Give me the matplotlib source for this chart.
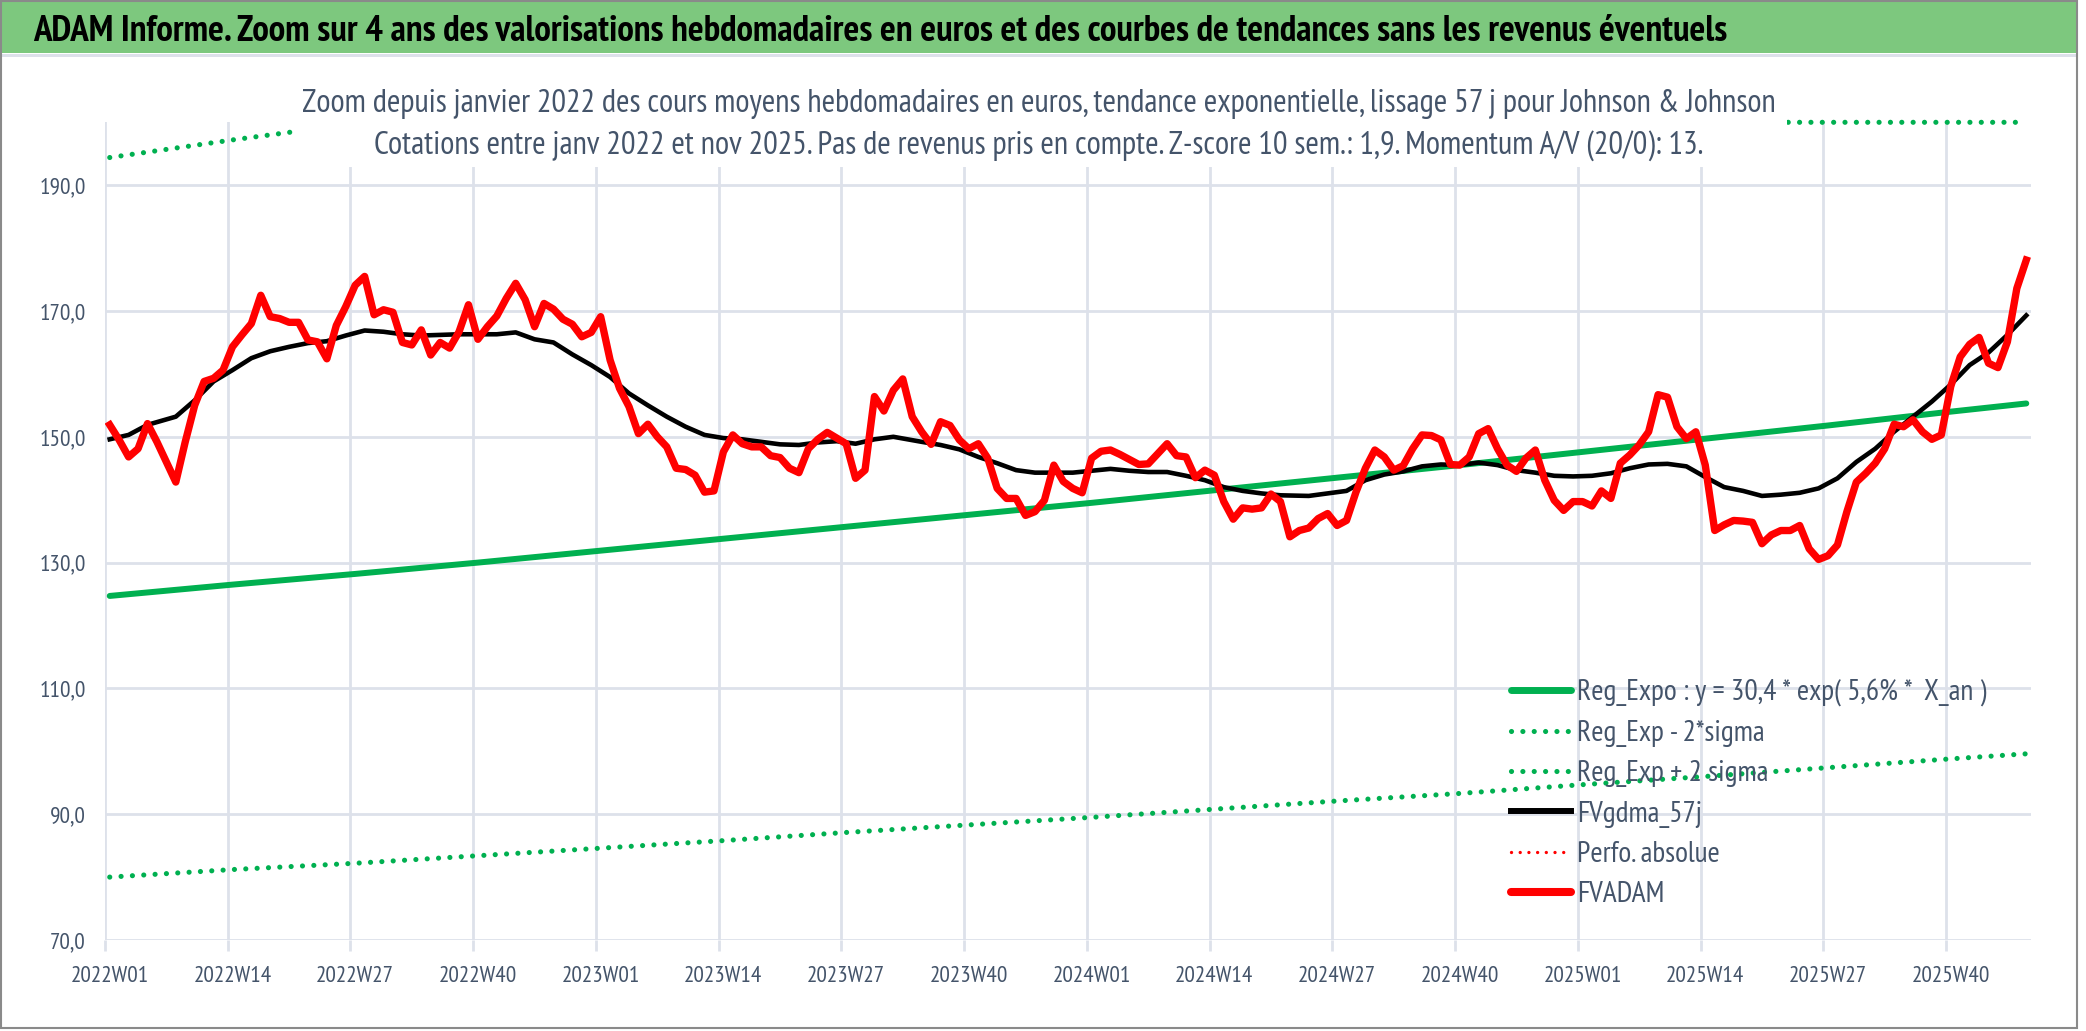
import numpy as np
import matplotlib
matplotlib.use("Agg")
import matplotlib.pyplot as plt
from matplotlib import font_manager
from matplotlib.patches import Rectangle
from matplotlib.lines import Line2D

# weekly FVADAM values (EUR), 2022W01 .. 2025W48
fvadam = [
    151.9, 149.5, 146.8, 148.1, 152.1, 149.2, 146.0, 142.8, 149.2, 155.0,
    158.8, 159.3, 160.6, 164.3, 166.2, 168.0, 172.5, 169.1, 168.8, 168.2,
    168.2, 165.4, 165.1, 162.4, 167.7, 170.7, 174.1, 175.5, 169.4, 170.2,
    169.8, 165.0, 164.6, 167.0, 163.0, 165.0, 164.1, 166.7, 171.0, 165.5,
    167.5, 169.2, 172.0, 174.4, 171.8, 167.5, 171.2, 170.3, 168.7, 167.9,
    165.9, 166.6, 169.1, 162.2, 157.7, 154.8, 150.5, 152.0, 150.0, 148.4,
    145.0, 144.8, 143.9, 141.2, 141.4, 147.6, 150.3, 148.9, 148.4, 148.4,
    147.0, 146.7, 145.0, 144.3, 148.1, 149.6, 150.7, 149.8, 148.9, 143.4,
    144.7, 156.4, 154.1, 157.4, 159.2, 153.2, 150.8, 148.8, 152.4, 151.8,
    149.5, 148.1, 148.9, 146.6, 141.8, 140.2, 140.2, 137.5, 138.1, 139.9,
    145.5, 142.9, 141.8, 141.1, 146.6, 147.7, 147.9, 147.2, 146.4, 145.6,
    145.7, 147.3, 148.9, 147.0, 146.8, 143.5, 144.7, 143.9, 139.7, 136.9,
    138.7, 138.5, 138.7, 140.9, 139.7, 134.1, 135.1, 135.5, 137.0, 137.8,
    135.9, 136.7, 141.2, 145.0, 147.9, 146.8, 144.7, 145.4, 148.1, 150.3,
    150.2, 149.5, 145.6, 145.5, 146.8, 150.5, 151.3, 148.1, 145.5, 144.5,
    146.6, 147.9, 143.1, 139.9, 138.3, 139.7, 139.7, 139.0, 141.4, 140.2,
    145.8, 147.1, 148.7, 150.8, 156.7, 156.3, 151.6, 149.7, 150.8, 145.5,
    135.1, 136.0, 136.7, 136.6, 136.4, 133.0, 134.4, 135.1, 135.1, 135.9,
    132.2, 130.5, 131.1, 132.8, 138.1, 142.8, 144.2, 145.8, 148.1, 152.0,
    151.6, 152.7, 150.8, 149.6, 150.3, 158.0, 162.7, 164.7, 165.8, 161.7,
    161.0, 165.1, 173.6, 178.1,
]

# FVgdma_57j smoothed curve, read every ~2 weeks
gdma_weeks = [
    0, 2, 4, 7, 9, 11, 13, 15, 17, 19, 21, 23, 25, 27, 29, 31, 33, 35, 37, 39,
    41, 43, 45, 47, 49, 51, 53, 55, 57, 59, 61, 63, 65, 67, 69, 71, 73, 75, 77,
    79, 81, 83, 86, 88, 90, 92, 94, 96, 98, 100, 102, 104, 106, 108, 110, 112,
    114, 116, 118, 120, 122, 124, 127, 129, 131, 133, 135, 137, 139, 141, 143,
    145, 147, 149, 151, 153, 155, 157, 159, 161, 163, 165, 167, 169, 171, 173,
    175, 177, 179, 181, 183, 185, 187, 189, 191, 193, 195, 197, 199, 201, 203,
]
gdma = [
    149.6, 150.3, 151.9, 153.2, 155.8, 158.8, 160.6, 162.5, 163.6, 164.3,
    164.9, 165.2, 166.1, 166.9, 166.7, 166.3, 166.1, 166.2, 166.3, 166.3,
    166.3, 166.6, 165.5, 165.0, 163.1, 161.4, 159.5, 156.9, 155.0, 153.2,
    151.6, 150.3, 149.8, 149.6, 149.2, 148.8, 148.7, 149.1, 149.3, 148.9,
    149.6, 150.0, 149.2, 148.7, 148.0, 146.8, 145.8, 144.7, 144.3, 144.3,
    144.3, 144.6, 144.9, 144.6, 144.4, 144.4, 143.8, 143.1, 142.0, 141.4,
    141.0, 140.7, 140.6, 141.0, 141.4, 143.1, 144.0, 144.5, 145.3, 145.6,
    145.5, 145.9, 145.5, 144.7, 144.3, 143.8, 143.7, 143.8, 144.2, 145.0,
    145.6, 145.7, 145.3, 143.6, 142.0, 141.4, 140.6, 140.8, 141.1, 141.8,
    143.4, 146.0, 148.1, 150.8, 153.2, 155.6, 158.3, 161.4, 163.4, 166.2,
    169.3,
]

# exponential trend and +/- 2 sigma bands, read every 13 weeks
trend_weeks = [0, 13, 26, 39, 52, 65, 78, 91, 104, 117, 130, 143, 156, 169, 182, 195, 203]
reg_expo = [124.7, 126.5, 128.2, 130.0, 131.9, 133.8, 135.7, 137.6, 139.5,
            141.5, 143.5, 145.5, 147.6, 149.7, 151.8, 154.0, 155.3]
reg_low = [80.0, 81.2, 82.2, 83.4, 84.6, 85.8, 87.1, 88.3, 89.5,
           90.8, 92.1, 93.3, 94.7, 96.0, 97.4, 98.8, 99.6]
reg_high = [194.4, 197.2, 199.8, 202.6, 205.6, 208.6, 211.5, 214.5, 217.5,
            220.6, 223.7, 226.8, 230.1, 233.4, 236.6, 240.1, 242.1]

years = [2022, 2023, 2024, 2025]
week_labels = ["{}W{:02d}".format(y, w) for y in years for w in range(1, 53)][:len(fvadam)]

title = ("ADAM Informe. Zoom sur 4 ans des valorisations hebdomadaires en euros "
         "et des courbes de tendances sans les revenus éventuels")
sub1 = ("Zoom depuis janvier 2022 des cours moyens hebdomadaires en euros, tendance "
        "exponentielle, lissage 57 j pour Johnson & Johnson")
sub2 = ("Cotations entre janv 2022 et nov 2025. Pas de revenus pris en compte. "
        "Z-score 10 sem.: 1,9. Momentum A/V (20/0): 13.")
labels = ["Reg_Expo : y = 30,4 * exp( 5,6% *  X_an )", "Reg_Exp - 2*sigma",
          "Reg_Exp + 2 sigma", "FVgdma_57j", "Perfo. absolue", "FVADAM"]

# narrow humanist font, close to the squeezed Calibri of the original
names = {f.name for f in font_manager.fontManager.ttflist}
FONT = next((f for f in ["PT Sans Narrow", "Liberation Sans Narrow", "Archivo Narrow",
                         "Carlito", "Liberation Sans"] if f in names), "DejaVu Sans")
plt.rcParams["font.family"] = [FONT, "DejaVu Sans"]

W, H = 2086, 1031
fig = plt.figure(figsize=(W / 100, H / 100), dpi=100)
rend = fig.canvas.get_renderer()


def fit_size(text, target_px, **kw):
    # font size (pt) that gives the text the width measured on the reference
    t = fig.text(0, 0, text, fontsize=20, **kw)
    w = t.get_window_extent(rend).width
    t.remove()
    return 20 * target_px / w


fs_title = fit_size(title, 1696, fontweight="bold")
fs_sub = fit_size(sub1, 1472)
fs_tick = fit_size("2022W01", 78)
fs_leg = fit_size(labels[0], 409)
leg_px = fs_leg * 100 / 72

ymin, ymax = 70, 200
n = len(fvadam)
ax = fig.add_axes([105 / W, 1 - 940 / H, (2031 - 105) / W, (940 - 122.3) / H])
x = np.arange(n)
GREEN = "#00b050"
DOTS = (0, (0.01, 2.2))
ax.plot(trend_weeks, reg_expo, color=GREEN, lw=4.3, solid_capstyle="round", zorder=3)
ax.plot(trend_weeks, reg_low, color=GREEN, lw=3.7, ls=DOTS, dash_capstyle="round", zorder=3)
# Excel pins the out-of-range band on the top edge of the plot
ax.plot(trend_weeks, np.minimum(reg_high, ymax), color=GREEN, lw=3.7, ls=DOTS,
        dash_capstyle="round", clip_on=False, zorder=3)
ax.plot(gdma_weeks, gdma, color="black", lw=3.3, zorder=4)
ax.plot(x, fvadam, color="#ff0000", lw=5.3, solid_joinstyle="round", zorder=5)

ax.set_xlim(-0.5, n - 0.5)
ax.set_ylim(ymin, ymax)
yt = list(range(70, 191, 20))
ax.set_yticks(yt)
ax.set_yticklabels(["{:.1f}".format(v).replace(".", ",") for v in yt])
ticks = list(range(0, n, 13))
ax.set_xticks(ticks)
ax.set_xticklabels([week_labels[i] for i in ticks])
ax.set_xticks([t - 0.5 for t in ticks], minor=True)
for s in ax.spines.values():
    s.set_visible(False)
GRID = "#dde1ea"
TXT = "#44546a"
ax.grid(axis="y", color=GRID, lw=2)
ax.grid(axis="x", which="minor", color=GRID, lw=2)
ax.tick_params(axis="x", which="major", length=0, pad=19, labelsize=fs_tick, labelcolor=TXT)
ax.tick_params(axis="x", which="minor", length=8, width=2, color=GRID)
ax.tick_params(axis="y", length=0, pad=14, labelsize=fs_tick, labelcolor=TXT)

handles = [
    Line2D([], [], color=GREEN, lw=5, solid_capstyle="round"),
    Line2D([], [], color=GREEN, lw=3.7, ls=DOTS, dash_capstyle="round"),
    Line2D([], [], color=GREEN, lw=3.7, ls=DOTS, dash_capstyle="round"),
    Line2D([], [], color="black", lw=4.3),
    Line2D([], [], color="#ff0000", lw=2.4, ls=(0, (0.01, 2.6)), dash_capstyle="round"),
    Line2D([], [], color="#ff0000", lw=5.8, solid_capstyle="round"),
]

# legend: first row centred at y=693 px, labels start at x=1577 px, rows 40.3 px apart
spacing, ax0, ay0 = 0.5, 1511.0, 680.0
for _ in range(3):
    leg = ax.legend(handles, labels, loc="upper left", bbox_to_anchor=(ax0 / W, 1 - ay0 / H),
                    bbox_transform=fig.transFigure, frameon=False, fontsize=fs_leg,
                    handlelength=60 / leg_px, handletextpad=6 / leg_px,
                    labelspacing=spacing, borderpad=0, borderaxespad=0)
    for t in leg.get_texts():
        t.set_color(TXT)
    fig.canvas.draw()
    ext = [t.get_window_extent(rend) for t in leg.get_texts()]
    pitch = ((ext[0].y0 + ext[0].y1) - (ext[-1].y0 + ext[-1].y1)) / 2 / 5
    spacing += (40.3 - pitch) / leg_px
    ay0 += 693 - (H - (ext[0].y0 + ext[0].y1) / 2)
    ax0 += 1577 - ext[0].x0

# header band and frame
fig.patches.append(Rectangle((0, 1 - 53 / H), 2077 / W, 53 / H, transform=fig.transFigure,
                             facecolor="#7dc87e", edgecolor="none", zorder=1))
fig.patches.append(Rectangle((0, 1 - 57 / H), 2077 / W, 3 / H, transform=fig.transFigure,
                             facecolor=GRID, edgecolor="none", zorder=1))
fig.patches.append(Rectangle((1 / W, 3 / H), 2076 / W, (H - 4) / H, transform=fig.transFigure,
                             facecolor="none", edgecolor="#8a8a8a", lw=1.5, zorder=1))
# white box behind the chart subtitle
fig.patches.append(Rectangle((293 / W, 1 - 167 / H), (1787 - 293) / W, (167 - 60) / H,
                             transform=fig.transFigure, facecolor="white",
                             edgecolor="none", zorder=1))
fig.text(33 / W, 1 - 41 / H, title, fontsize=fs_title, fontweight="bold",
         color="black", va="baseline", ha="left", zorder=3)
fig.text(1039 / W, 1 - 112 / H, sub1, fontsize=fs_sub, color=TXT,
         ha="center", va="baseline", zorder=3)
fig.text(1039 / W, 1 - 154 / H, sub2, fontsize=fs_sub, color=TXT,
         ha="center", va="baseline", zorder=3)

fig.savefig("out.png", dpi=100)
